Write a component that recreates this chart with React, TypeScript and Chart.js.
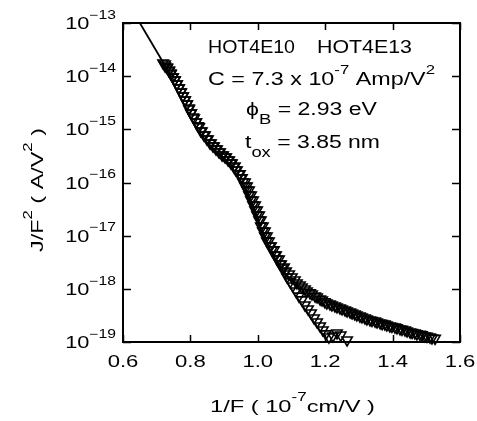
import React, { useEffect, useRef } from "react";
import { Chart, registerables } from "chart.js";

Chart.register(...registerables);

// ---- data ----
const seriesAX = [
  0.719, 0.725, 0.731, 0.737, 0.742, 0.748, 0.754, 0.76, 0.766, 0.772, 0.778, 0.784, 0.79, 0.796,
  0.802, 0.808, 0.817, 0.823, 0.831, 0.84, 0.849, 0.858, 0.867, 0.876, 0.885, 0.894, 0.903, 0.912,
  0.92, 0.929, 0.935, 0.944, 0.95, 0.956, 0.962, 0.968, 0.974, 0.98, 0.986, 0.992, 0.998, 1.004,
  1.009, 1.015, 1.021, 1.027, 1.036, 1.042, 1.051, 1.057, 1.066, 1.072, 1.081, 1.087, 1.096, 1.104,
  1.113, 1.122, 1.131, 1.14, 1.149, 1.158, 1.167, 1.176, 1.185, 1.193, 1.202, 1.211, 1.223, 1.235,
  1.246, 1.265,
];
const seriesAY = [
  1.77e-14, 1.55e-14, 1.43e-14, 1.25e-14, 1.1e-14, 9.64e-15, 8.47e-15, 7.13e-15, 5.99e-15, 5.04e-15,
  4.24e-15, 3.56e-15, 3.0e-15, 2.52e-15, 2.03e-15, 1.71e-15, 1.37e-15, 1.16e-15, 9.3e-16, 7.82e-16,
  6.58e-16, 5.53e-16, 4.86e-16, 4.27e-16, 3.75e-16, 3.29e-16, 3.02e-16, 2.65e-16, 2.33e-16, 1.96e-16,
  1.72e-16, 1.45e-16, 1.22e-16, 1.02e-16, 8.6e-17, 7.23e-17, 5.82e-17, 4.69e-17, 3.78e-17, 3.04e-17,
  2.45e-17, 1.97e-17, 1.52e-17, 1.22e-17, 9.86e-18, 7.94e-18, 6.4e-18, 5.38e-18, 4.33e-18, 3.64e-18,
  2.93e-18, 2.47e-18, 2.07e-18, 1.67e-18, 1.35e-18, 1.13e-18, 9.1e-19, 7.3e-19, 6.2e-19, 4.97e-19,
  4.18e-19, 3.51e-19, 2.83e-19, 2.38e-19, 2.0e-19, 1.68e-19, 1.42e-19, 1.24e-19, 1.3e-19, 1.48e-19,
  1.35e-19, 1.09e-19,
];
const seriesBX = [
  0.725, 0.731, 0.737, 0.742, 0.748, 0.754, 0.76, 0.766, 0.772, 0.778, 0.784, 0.79, 0.796, 0.802,
  0.811, 0.817, 0.826, 0.834, 0.843, 0.852, 0.861, 0.87, 0.879, 0.888, 0.897, 0.906, 0.915, 0.923,
  0.932, 0.938, 0.947, 0.953, 0.962, 0.968, 0.974, 0.98, 0.986, 0.992, 0.998, 1.004, 1.009, 1.015,
  1.021, 1.027, 1.033, 1.039, 1.048, 1.054, 1.063, 1.069, 1.078, 1.084, 1.093, 1.101, 1.11, 1.116,
  1.125, 1.131, 1.14, 1.146, 1.155, 1.161, 1.17, 1.176, 1.185, 1.191, 1.199, 1.205, 1.214, 1.22,
  1.229, 1.235, 1.244, 1.25, 1.259, 1.265, 1.274, 1.28, 1.288, 1.294, 1.303, 1.309, 1.318, 1.324,
  1.333, 1.339, 1.348, 1.354, 1.363, 1.369, 1.377, 1.383, 1.392, 1.398, 1.407, 1.413, 1.422, 1.428,
  1.437, 1.443, 1.452, 1.458, 1.466, 1.472, 1.481, 1.487, 1.496, 1.502, 1.511, 1.517, 1.526,
];
const seriesBY = [
  1.69e-14, 1.49e-14, 1.31e-14, 1.15e-14, 9.6e-15, 8.47e-15, 7.1e-15, 5.99e-15, 5.0e-15, 4.24e-15,
  3.56e-15, 3.0e-15, 2.41e-15, 2.03e-15, 1.63e-15, 1.37e-15, 1.11e-15, 9.3e-16, 7.8e-16, 6.58e-16,
  5.5e-16, 4.86e-16, 4.27e-16, 3.75e-16, 3.29e-16, 3.02e-16, 2.65e-16, 2.33e-16, 2.05e-16, 1.72e-16,
  1.45e-16, 1.22e-16, 1.02e-16, 8.6e-17, 7.2e-17, 5.82e-17, 4.7e-17, 3.78e-17, 3.04e-17, 2.45e-17,
  1.97e-17, 1.52e-17, 1.22e-17, 9.86e-18, 7.9e-18, 6.4e-18, 5.4e-18, 4.33e-18, 3.64e-18, 2.93e-18,
  2.58e-18, 2.17e-18, 1.9e-18, 1.67e-18, 1.47e-18, 1.29e-18, 1.18e-18, 1.08e-18, 9.9e-19, 9.1e-19,
  8.4e-19, 8.0e-19, 7.3e-19, 7.03e-19, 6.4e-19, 6.17e-19, 5.7e-19, 5.42e-19, 5.2e-19, 4.97e-19,
  4.75e-19, 4.56e-19, 4.36e-19, 4.18e-19, 4.0e-19, 3.83e-19, 3.67e-19, 3.51e-19, 3.36e-19, 3.22e-19,
  3.08e-19, 2.96e-19, 2.83e-19, 2.71e-19, 2.6e-19, 2.54e-19, 2.48e-19, 2.38e-19, 2.28e-19, 2.22e-19,
  2.18e-19, 2.09e-19, 2.0e-19, 1.96e-19, 1.91e-19, 1.84e-19, 1.76e-19, 1.73e-19, 1.68e-19, 1.61e-19,
  1.54e-19, 1.51e-19, 1.48e-19, 1.42e-19, 1.39e-19, 1.36e-19, 1.3e-19, 1.28e-19, 1.24e-19, 1.19e-19,
  1.17e-19,
];
const fitX = [0.65, 0.75];
const fitY = [1e-13, 8.5e-15];

const xTickValues = [0.6, 0.8, 1.0, 1.2, 1.4, 1.6];
const yTickExponents = [-13, -14, -15, -16, -17, -18, -19];

const FONT = '"Liberation Sans", Arial, sans-serif';

type Seg = { t: string; k?: "sup" | "sub" };

function segSize(s: Seg, size: number) {
  return s.k ? size * (s.k === "sup" ? 0.72 : 0.8) : size;
}

function richWidth(ctx: CanvasRenderingContext2D, segs: Seg[], size: number) {
  let w = 0;
  for (const s of segs) {
    ctx.font = `${segSize(s, size)}px ${FONT}`;
    w += ctx.measureText(s.t).width;
  }
  return w;
}

function drawRich(
  ctx: CanvasRenderingContext2D,
  segs: Seg[],
  x: number,
  y: number,
  size: number,
  opts: { width?: number; sx?: number; align?: "left" | "center" | "right" }
) {
  const nat = richWidth(ctx, segs, size);
  const sx = opts.width ? opts.width / nat : opts.sx ?? 1;
  const total = nat * sx;
  let start = x;
  if (opts.align === "center") start = x - total / 2;
  else if (opts.align === "right") start = x - total;
  ctx.save();
  ctx.translate(start, y);
  ctx.scale(sx, 1);
  ctx.textAlign = "left";
  ctx.textBaseline = "alphabetic";
  ctx.fillStyle = "#000";
  let cx = 0;
  for (const s of segs) {
    const fs = segSize(s, size);
    ctx.font = `${fs}px ${FONT}`;
    const dy = s.k === "sup" ? -0.62 * size : s.k === "sub" ? 0.5 * size : 0;
    ctx.fillText(s.t, cx, dy);
    cx += ctx.measureText(s.t).width;
  }
  ctx.restore();
}

const framePlugin = {
  id: "frame",
  afterDraw(chart: any) {
    const ctx: CanvasRenderingContext2D = chart.ctx;
    const { left, right, top, bottom } = chart.chartArea;
    const xs = chart.scales.x;
    const ys = chart.scales.y;
    ctx.save();
    ctx.strokeStyle = "#000";
    ctx.lineWidth = 2;
    ctx.strokeRect(left, top, right - left, bottom - top);
    ctx.lineWidth = 1.5;
    ctx.beginPath();
    for (const v of xTickValues) {
      const px = Math.round(xs.getPixelForValue(v)) + 0.5;
      ctx.moveTo(px, bottom);
      ctx.lineTo(px, bottom - 7);
      ctx.moveTo(px, top);
      ctx.lineTo(px, top + 7);
    }
    for (const e of yTickExponents) {
      const py = Math.round(ys.getPixelForValue(Math.pow(10, e))) + 0.5;
      ctx.moveTo(left, py);
      ctx.lineTo(left + 8, py);
      ctx.moveTo(right, py);
      ctx.lineTo(right - 8, py);
    }
    ctx.stroke();

    // x tick labels
    for (const v of xTickValues) {
      const px = xs.getPixelForValue(v);
      drawRich(ctx, [{ t: v.toFixed(1) }], px, 367, 17, { sx: 1.3, align: "center" });
    }
    // y tick labels
    for (const e of yTickExponents) {
      const py = ys.getPixelForValue(Math.pow(10, e));
      drawRich(ctx, [{ t: "10" }, { t: "\u2212" + Math.abs(e), k: "sup" }], 116, py + 6, 16.5, {
        sx: 1.32,
        align: "right",
      });
    }
    // axis titles
    drawRich(
      ctx,
      [{ t: "1/F ( 10" }, { t: "-7", k: "sup" }, { t: "cm/V )" }],
      210,
      412,
      17,
      { width: 165, align: "left" }
    );
    ctx.save();
    ctx.translate(43, 190);
    ctx.rotate(-Math.PI / 2);
    drawRich(
      ctx,
      [{ t: "J/F" }, { t: "2", k: "sup" }, { t: " ( A/V" }, { t: "2", k: "sup" }, { t: " )" }],
      0,
      0,
      17,
      { width: 124, align: "center" }
    );
    ctx.restore();

    // annotations
    drawRich(ctx, [{ t: "HOT4E10" }], 208, 53, 17.5, { width: 87 });
    drawRich(ctx, [{ t: "HOT4E13" }], 317, 53, 17.5, { width: 95 });
    drawRich(
      ctx,
      [{ t: "C = 7.3 x 10" }, { t: "-7", k: "sup" }, { t: " Amp/V" }, { t: "2", k: "sup" }],
      208,
      85,
      17.5,
      { width: 227 }
    );
    drawRich(ctx, [{ t: "\u03D5" }, { t: "B", k: "sub" }, { t: " = 2.93 eV" }], 246, 115, 17.5, {
      width: 131,
    });
    drawRich(ctx, [{ t: "t" }, { t: "ox", k: "sub" }, { t: " = 3.85 nm" }], 245, 148, 17.5, {
      width: 135,
    });
    ctx.restore();
  },
};

export default function App() {
  const ref = useRef<HTMLCanvasElement | null>(null);
  useEffect(() => {
    if (!ref.current) return;
    const pts = (xs: number[], ys: number[]) => xs.map((x, i) => ({ x, y: ys[i] }));
    const marker = {
      showLine: false,
      pointStyle: "triangle",
      rotation: 180,
      pointRadius: 6,
      pointBorderWidth: 1.6,
      pointBorderColor: "#000",
      pointBackgroundColor: "rgba(0,0,0,0)",
      borderColor: "#000",
      clip: false as any,
    };
    const chart = new Chart(ref.current, {
      type: "scatter",
      data: {
        datasets: [
          {
            label: "fit",
            data: pts(fitX, fitY),
            showLine: true,
            borderColor: "#000",
            borderWidth: 1.8,
            pointRadius: 0,
          },
          { label: "HOT4E10", data: pts(seriesAX, seriesAY), ...marker },
          { label: "HOT4E13", data: pts(seriesBX, seriesBY), ...marker },
        ] as any,
      },
      options: {
        animation: false,
        responsive: false,
        events: [],
        layout: { padding: { left: 123, top: 23, right: 17, bottom: 79 } },
        plugins: { legend: { display: false }, tooltip: { enabled: false } },
        scales: {
          x: { type: "linear", min: 0.6, max: 1.6, display: false },
          y: { type: "logarithmic", min: 1e-19, max: 1e-13, display: false },
        },
      },
      plugins: [framePlugin],
    });
    return () => chart.destroy();
  }, []);
  return (
    <div style={{ position: "fixed", left: 0, top: 0, width: 477, height: 421, background: "#fff" }}>
      <canvas ref={ref} width={477} height={421} />
    </div>
  );
}
